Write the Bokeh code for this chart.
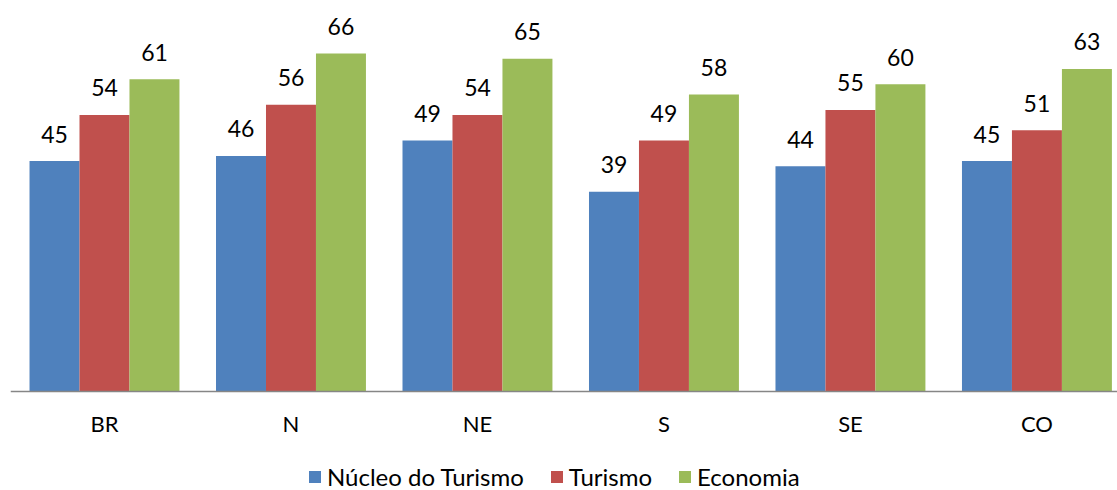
from bokeh.plotting import figure
from bokeh.models import Range1d, FixedTicker, ColumnDataSource, Legend, LegendItem, LinearAxis
from bokeh.transform import dodge
from bokeh.core.properties import value
from bokeh.embed import file_html
from bokeh.resources import INLINE

regions = ["BR", "N", "NE", "S", "SE", "CO"]
nucleo = [45, 46, 49, 39, 44, 45]
turismo = [54, 56, 54, 49, 55, 51]
economia = [61, 66, 65, 58, 60, 63]
series_names = ["Núcleo do Turismo", "Turismo", "Economia"]
colors = ["#4F81BD", "#C0504D", "#9BBB59"]

FONT = "Lato"
idx = list(range(len(regions)))
src = ColumnDataSource(dict(x=idx, nucleo=nucleo, turismo=turismo, economia=economia,
                            l_n=[str(v) for v in nucleo], l_t=[str(v) for v in turismo],
                            l_e=[str(v) for v in economia]))

p = figure(width=1117, height=490, output_backend="svg", toolbar_location=None,
           x_range=Range1d(-0.504, 5.432), y_range=Range1d(-19.34, 74.8),
           x_axis_location=None, y_axis_location=None,
           min_border_left=10, min_border_right=0, min_border_top=8, min_border_bottom=0)

w = 0.268
renderers = []
for col, lab, off, c in [("nucleo", "l_n", -w, colors[0]), ("turismo", "l_t", 0, colors[1]),
                         ("economia", "l_e", w, colors[2])]:
    r = p.vbar(x=dodge("x", off, range=p.x_range), top=col, bottom=0, width=w, source=src,
               fill_color=c, line_color=None)
    renderers.append(r)
    p.text(x=dodge("x", off, range=p.x_range), y=col, text=lab, source=src,
           text_align="center", text_baseline="alphabetic", y_offset=-27,
           text_font=value(FONT), text_font_size="23px", text_color="#000000")

p.xgrid.visible = False
p.ygrid.visible = False
p.outline_line_color = None

ax = LinearAxis(fixed_location=0)
ax.ticker = FixedTicker(ticks=idx)
ax.major_label_overrides = {i: r for i, r in enumerate(regions)}
ax.major_tick_line_color = None
ax.minor_tick_line_color = None
ax.axis_line_color = "#868686"
ax.axis_line_width = 1.5
ax.major_label_standoff = 13
ax.major_label_text_font = FONT
ax.major_label_text_font_size = "22px"
ax.major_label_text_color = "#000000"
p.add_layout(ax, "below")

legend = Legend(items=[LegendItem(label=n, renderers=[r]) for n, r in zip(series_names, renderers)],
                orientation="horizontal", location=(297, -1),
                label_text_font=FONT, label_text_font_size="24px", label_text_color="#000000",
                glyph_width=15, glyph_height=15, spacing=25, label_standoff=5,
                border_line_color=None, background_fill_alpha=0, margin=0, padding=0)
p.add_layout(legend, "center")

open("out.html", "w").write(file_html(p, INLINE))
